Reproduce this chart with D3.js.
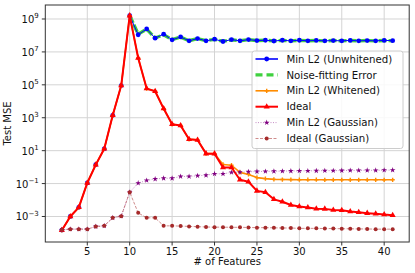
<!DOCTYPE html>
<html>
<head>
<meta charset="utf-8">
<script src="https://cdn.jsdelivr.net/npm/d3@7"></script>
<style>
  body { margin: 0; background: #fff; }
  svg { display: block; font-family: "DejaVu Sans", sans-serif; }
</style>
</head>
<body>
<svg></svg>
<script>
/*
*  DATA
*/

let features = d3.range(2, 42)

let minL2Unwhitened = [1.5e-4, 1.0e-3, 3.6e-3, 0.11, 1.4, 13, 1.4e3, 9e4, 1.6e9,
  1.1e8, 2.5e8, 6.8e7, 1.2e8, 5.4e7, 8.1e7, 4.7e7, 6.5e7, 4.7e7, 5.9e7,
  4.3e7, 5.6e7, 4.7e7, 5.6e7, 4.9e7, 5.1e7, 4.6e7, 5.1e7, 4.7e7, 5.1e7,
  4.7e7, 5.0e7, 4.7e7, 4.9e7, 4.7e7, 5.0e7, 4.7e7, 4.9e7, 4.7e7, 5.0e7, 4.8e7]

// hidden under the red line below 10 features
let noiseFitting = [null, null, null, null, null, null, null, null, 1.6e9,
  1.2e8, 2.4e8, 7.0e7, 1.1e8, 5.6e7, 7.9e7, 4.8e7, 6.4e7, 4.8e7, 5.8e7,
  4.4e7, 5.5e7, 4.8e7, 5.5e7, 4.9e7, 5.1e7, 4.7e7, 5.0e7, 4.7e7, 5.0e7,
  4.8e7, 4.9e7, 4.7e7, 4.9e7, 4.7e7, 4.9e7, 4.7e7, 4.9e7, 4.7e7, 4.9e7, 4.8e7]

let minL2Whitened = [1.45e-4, 1.0e-3, 3.6e-3, 0.11, 1.4, 13, 1.4e3, 9e4, 1.6e9,
  4.3e6, 5.9e4, 4.1e4, 3.6e3, 400, 340, 49, 45, 6.6, 6.6,
  1.45, 1.3, 0.48, 0.36, 0.23, 0.20, 0.18, 0.175, 0.173, 0.172,
  0.171, 0.171, 0.17, 0.17, 0.17, 0.17, 0.17, 0.17, 0.17, 0.17, 0.17]

let ideal = [1.45e-4, 1.0e-3, 3.6e-3, 0.11, 1.4, 13, 1.4e3, 9e4, 1.6e9,
  4.3e6, 5.9e4, 4.1e4, 3.6e3, 400, 340, 49, 45, 6.6, 6.6,
  0.95, 0.95, 0.17, 0.13, 0.036, 0.030, 0.011, 0.0079, 0.0050, 0.0040,
  0.0035, 0.0030, 0.0029, 0.0025, 0.0024, 0.0020, 0.0018, 0.0016, 0.00145, 0.0013, 0.0012]

let minL2Gaussian = [1.55e-4, 1.7e-4, 1.7e-4, 1.7e-4, 2.45e-4, 2.7e-4, 8.3e-4, 1.05e-3, 0.030,
  0.107, 0.155, 0.19, 0.21, 0.21, 0.27, 0.27, 0.30, 0.32, 0.39,
  0.39, 0.48, 0.49, 0.52, 0.54, 0.55, 0.56, 0.57, 0.58, 0.59,
  0.59, 0.60, 0.61, 0.61, 0.62, 0.63, 0.63, 0.64, 0.64, 0.65, 0.66]

let idealGaussian = [1.55e-4, 1.7e-4, 1.7e-4, 1.7e-4, 2.45e-4, 2.7e-4, 8.3e-4, 1.05e-3, 0.030,
  1.66e-3, 8.3e-4, 8.3e-4, 2.7e-4, 2.7e-4, 2.6e-4, 2.5e-4, 2.4e-4, 2.3e-4, 2.25e-4,
  2.25e-4, 2.2e-4, 2.2e-4, 2.15e-4, 2.1e-4, 2.1e-4, 2.05e-4, 2.0e-4, 2.0e-4, 1.9e-4,
  1.9e-4, 1.9e-4, 1.85e-4, 1.85e-4, 1.8e-4, 1.8e-4, 1.75e-4, 1.75e-4, 1.7e-4, 1.7e-4, 1.7e-4]

let xTicks = [5, 10, 15, 20, 25, 30, 35, 40]
let yTickExps = [-3, -1, 1, 3, 5, 7, 9]

/*
*  RUN
*/

let width = 415,
    height = 273,
    plotLeft = 45.3, plotRight = 409.2, plotTop = 5, plotBottom = 242

let svg = d3.select('svg').attr('width', width).attr('height', height)

let x = d3.scaleLinear().domain([0.05, 42.95]).range([plotLeft, plotRight])
let y = d3.scaleLog().domain([Math.pow(10, -4.55), Math.pow(10, 9.85)]).range([plotBottom, plotTop])

// green goes underneath so it shows as a halo round the blue line
let series = [
  { name: 'Noise-fitting Error', values: noiseFitting, color: '#3fd13f', width: 3.4, dash: '8,2', marker: null },
  { name: 'Min L2 (Unwhitened)', values: minL2Unwhitened, color: '#0000ff', width: 1, dash: null, marker: 'circle', size: 2.4 },
  { name: 'Min L2 (Whitened)', values: minL2Whitened, color: '#ff8c00', width: 1.6, dash: null, marker: 'cross', size: 10 },
  { name: 'Ideal', values: ideal, color: '#ff0000', width: 2, dash: null, marker: 'triangle', size: 16 },
  { name: 'Min L2 (Gaussian)', values: minL2Gaussian, color: '#800080', width: 0.9, dash: '1,1.5', marker: 'star', size: 10, opacity: 0.5 },
  { name: 'Ideal (Gaussian)', values: idealGaussian, color: '#a52a2a', width: 0.9, dash: '3,1.5', marker: 'circle', size: 2, opacity: 0.6 }
]

drawGrid()
drawSeries()
drawAxes()
drawLegend()


/*
*  HELPERS
*/

function drawGrid(){
  let g = svg.append('g').attr('class', 'grid')
  g.selectAll('.gx').data(xTicks).enter().append('line')
    .attr('x1', d => x(d)).attr('x2', d => x(d))
    .attr('y1', plotTop).attr('y2', plotBottom)
    .attr('stroke', '#d4d4d4').attr('stroke-width', 1)
  g.selectAll('.gy').data(yTickExps).enter().append('line')
    .attr('x1', plotLeft).attr('x2', plotRight)
    .attr('y1', d => y(Math.pow(10, d))).attr('y2', d => y(Math.pow(10, d)))
    .attr('stroke', '#d4d4d4').attr('stroke-width', 1)
}

function drawMarker(sel, s){
  if(s.marker === 'circle'){
    sel.append('circle').attr('r', s.size).attr('fill', s.color)
  } else {
    let type = { triangle: d3.symbolTriangle, star: d3.symbolStar, cross: d3.symbolCross }[s.marker]
    sel.append('path').attr('d', d3.symbol().type(type).size(s.size)()).attr('fill', s.color)
  }
}

function drawSeries(){
  let line = d3.line()
    .defined(d => d != null)
    .x((d, i) => x(features[i])).y(d => y(d))
  series.forEach(s => {
    let g = svg.append('g').attr('class', 'series')
    g.append('path')
      .attr('d', line(s.values))
      .attr('fill', 'none')
      .attr('stroke', s.color)
      .attr('stroke-width', s.width)
      .attr('stroke-dasharray', s.dash)
      .attr('stroke-opacity', s.opacity || 1)
      .attr('stroke-linejoin', 'round')
    if(s.marker){
      g.selectAll('.m').data(s.values).enter().append('g')
        .attr('transform', (d, i) => `translate(${x(features[i])},${y(d)})`)
        .each(function(){ drawMarker(d3.select(this), s) })
    }
  })
}

function drawAxes(){
  let axis = svg.append('g').attr('class', 'axes')
  axis.append('rect')
    .attr('x', plotLeft).attr('y', plotTop)
    .attr('width', plotRight - plotLeft).attr('height', plotBottom - plotTop)
    .attr('fill', 'none').attr('stroke', '#333').attr('stroke-width', 1)

  let xa = axis.selectAll('.xt').data(xTicks).enter().append('g')
    .attr('transform', d => `translate(${x(d)},${plotBottom})`)
  xa.append('line').attr('y2', 3.5).attr('stroke', '#333')
  xa.append('text').text(d => d)
    .attr('y', 12.5).attr('text-anchor', 'middle')
    .attr('font-size', 10).attr('fill', '#111')

  let ya = axis.selectAll('.yt').data(yTickExps).enter().append('g')
    .attr('transform', d => `translate(${plotLeft},${y(Math.pow(10, d))})`)
  ya.append('line').attr('x2', -3.5).attr('stroke', '#333')
  let t = ya.append('text').attr('x', -6.5).attr('y', 4)
    .attr('text-anchor', 'end').attr('font-size', 10).attr('fill', '#111')
  t.append('tspan').text('10')
  t.append('tspan').text(d => String(d).replace('-', '\u2212'))
    .attr('font-size', 7).attr('dy', -4.5)

  svg.append('text').text('# of Features')
    .attr('x', (plotLeft + plotRight) / 2).attr('y', 265)
    .attr('text-anchor', 'middle').attr('font-size', 10).attr('fill', '#111')

  svg.append('text').text('Test MSE')
    .attr('transform', `translate(11,${(plotTop + plotBottom) / 2}) rotate(-90)`)
    .attr('text-anchor', 'middle').attr('font-size', 10).attr('fill', '#111')
}

function drawLegend(){
  let order = ['Min L2 (Unwhitened)', 'Noise-fitting Error', 'Min L2 (Whitened)', 'Ideal', 'Min L2 (Gaussian)', 'Ideal (Gaussian)']
  let l = svg.append('g').attr('class', 'legend')
  l.append('rect')
    .attr('x', 252).attr('y', 51).attr('width', 151).attr('height', 97.5)
    .attr('rx', 2.5)
    .attr('fill', 'white').attr('fill-opacity', 0.85)
    .attr('stroke', '#cccccc').attr('stroke-width', 1)
  order.forEach((name, i) => {
    let s = series.find(d => d.name === name)
    let row = l.append('g').attr('transform', `translate(0,${59 + i * 15.9})`)
    let legendDash = name === 'Noise-fitting Error' ? '7,4' : s.dash
    row.append('line')
      .attr('x1', 255.5).attr('x2', 278)
      .attr('stroke', s.color)
      .attr('stroke-width', name === 'Min L2 (Unwhitened)' ? 1.6 : s.width)
      .attr('stroke-dasharray', legendDash)
      .attr('stroke-opacity', s.opacity || 1)
    if(s.marker){
      let m = row.append('g').attr('transform', 'translate(266.7,0)')
      drawMarker(m, s)
    }
    row.append('text').text(name)
      .attr('x', 286.5).attr('y', 3.6)
      .attr('font-size', 10.2).attr('fill', '#111')
  })
}
</script>
</body>
</html>
